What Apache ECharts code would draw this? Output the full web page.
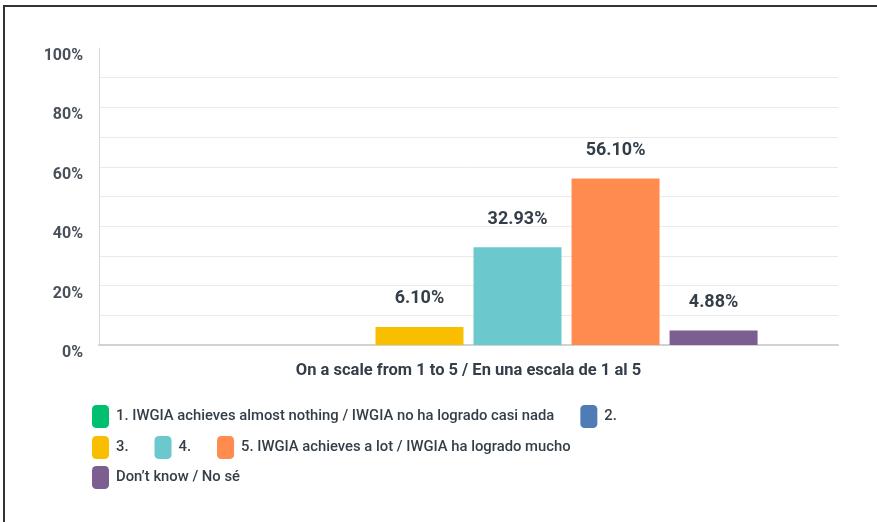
<!DOCTYPE html>
<html>
<head>
<meta charset="utf-8">
<script src="https://cdn.jsdelivr.net/npm/echarts@6/dist/echarts.min.js"></script>
<style>
  html, body { margin: 0; padding: 0; background: #fff; }
  #chart { position: absolute; left: 0; top: 0; width: 877px; height: 522px; }
  #frame {
    position: absolute; left: 3px; top: 5px; width: 880px; height: 530px;
    border-left: 2px solid #333; border-top: 2px solid #333; pointer-events: none;
  }
</style>
</head>
<body>
<div id="chart"></div>
<div id="frame"></div>
<script>
// 调查结果: 单一类别, 6 个选项
const categories = ['On a scale from 1 to 5 / En una escala de 1 al 5']
const seriesNames = [
  '1. IWGIA achieves almost nothing / IWGIA no ha logrado casi nada',
  '2.',
  '3.',
  '4.',
  '5. IWGIA achieves a lot / IWGIA ha logrado mucho',
  'Don\u2019t know / No sé'
]
const seriesValues = [0, 0, 6.10, 32.93, 56.10, 4.88]
const yTicks = [0, 20, 40, 60, 80, 100]
const color = ['#00bf6f', '#507cb6', '#f9be00', '#6bc8cd', '#ff8b4f', '#7d5e90']

const textColor = '#333e48'
const font = 'Roboto, "Noto Sans", sans-serif'

var chart = echarts.init(document.getElementById('chart'), null, { renderer: 'canvas' })

// 图例分三行
function legendRow(names, top) {
  return {
    data: names,
    left: 87,
    top: top,
    orient: 'horizontal',
    itemWidth: 17,
    itemHeight: 23,
    itemGap: 26,
    icon: 'roundRect',
    textStyle: {
      color: textColor,
      fontSize: 14.8,
      fontWeight: 500,
      fontFamily: font,
      padding: [0, 0, 0, 2]
    },
    selectedMode: false
  }
}

var option = {
  animation: false,
  color: color,
  grid: {
    left: 99,
    right: 39,
    top: 48,
    bottom: 177
  },
  legend: [
    legendRow([seriesNames[0], seriesNames[1]], 400),
    legendRow([seriesNames[2], seriesNames[3], seriesNames[4]], 431),
    legendRow([seriesNames[5]], 461)
  ],
  xAxis: {
    type: 'category',
    data: categories,
    axisTick: { show: false },
    axisLine: { show: true, lineStyle: { color: '#d0d2d3', width: 2 } },
    axisLabel: {
      color: textColor,
      fontSize: 16.5,
      fontWeight: 'bold',
      fontFamily: font,
      margin: 17
    }
  },
  yAxis: {
    type: 'value',
    min: 0,
    max: 100,
    interval: 10,
    axisLine: { show: true, lineStyle: { color: '#d9dadb', width: 1 } },
    axisTick: { show: false },
    axisLabel: {
      color: '#4a5059',
      fontSize: 16,
      fontWeight: 'bold',
      fontFamily: font,
      margin: 16,
      verticalAlign: 'top',
      formatter: function (v) {
        return yTicks.indexOf(v) >= 0 ? v + '%' : ''
      }
    },
    splitLine: {
      show: true,
      lineStyle: {
        // 顶部 100% 不画线
        color: ['#e9eaeb', '#e9eaeb', '#e9eaeb', '#e9eaeb', '#e9eaeb', '#e9eaeb',
          '#e9eaeb', '#e9eaeb', '#e9eaeb', '#e9eaeb', 'rgba(0,0,0,0)'],
        width: 1
      }
    }
  },
  series: seriesNames.map(function (name, i) {
    return {
      name: name,
      type: 'bar',
      data: [seriesValues[i]],
      barWidth: 88,
      barGap: '11.4%',
      label: {
        show: seriesValues[i] > 0,
        position: 'top',
        distance: 19,
        color: textColor,
        fontSize: 18,
        fontWeight: 'bold',
        fontFamily: font,
        formatter: function (p) {
          return p.value.toFixed(2) + '%'
        }
      }
    }
  })
}

chart.setOption(option)
</script>
</body>
</html>
